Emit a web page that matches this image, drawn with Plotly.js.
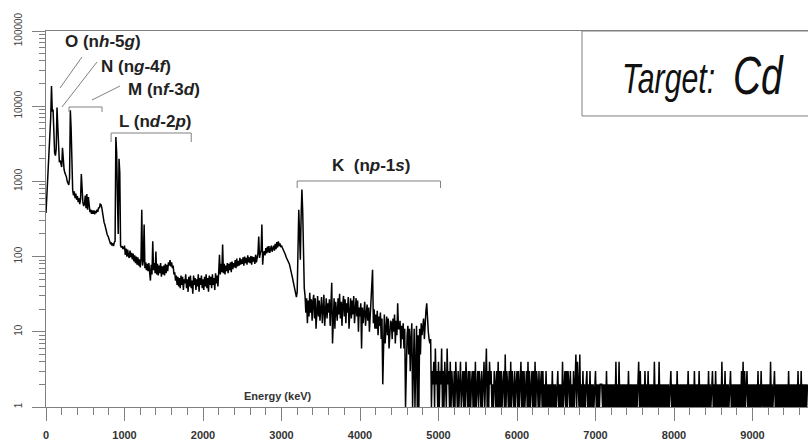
<!DOCTYPE html>
<html>
<head>
<meta charset="utf-8">
<script src="https://cdn.plot.ly/plotly-3.0.1.min.js"></script>
<style>html,body{margin:0;padding:0;background:#fff;}#chart{width:808px;height:442px;}</style>
</head>
<body>
<div id="chart"></div>
<script>
// Spectrum channels: start energy and width (keV)
const channelStart = 0;
const channelWidth = 10;

// Counts per channel, 0 - 990 keV
const countsLow = [
  380,600,950,1500,2400,3800,7000,18500,8500,9000,
  3500,2400,2200,2700,9600,4500,2100,1800,1900,1650,
  1550,2800,1500,1450,1300,1220,1150,1000,950,900,
  1100,8800,5000,850,760,650,740,600,690,570,
  640,530,600,500,570,1250,560,520,470,500,
  650,440,680,420,620,440,390,420,370,410,
  370,410,365,405,380,420,395,450,440,500,
  490,450,360,340,285,265,235,220,195,188,
  170,165,150,152,140,150,138,155,160,3900,
  2400,600,200,2000,1300,140,132,138,126,130
];
// 1000 - 1990 keV
const countsMid1 = [
  140,105,128,100,124,104,96,120,98,112,
  92,110,86,104,82,100,78,98,76,92,
  72,90,420,76,88,267,70,84,66,80,
  64,82,60,48,78,58,160,66,82,60,
  117,58,80,56,76,60,82,54,74,58,
  76,56,80,60,78,64,84,76,90,74,
  84,70,76,58,62,48,56,42,54,40,
  52,38,56,42,54,36,50,44,58,38,
  50,34,54,40,56,38,48,32,56,42,
  52,36,50,40,58,34,52,42,56,38
];
// 2000 - 2990 keV
const countsMid2 = [
  50,36,54,40,58,38,52,34,56,42,
  54,38,58,42,52,36,60,44,56,40,
  62,106,58,80,62,145,60,80,58,76,
  64,82,60,80,66,84,62,86,68,82,
  72,90,70,94,74,88,76,96,78,92,
  80,98,76,100,82,96,78,104,84,98,
  82,102,78,100,86,98,80,106,84,102,
  110,185,96,112,120,267,78,110,118,104,
  130,110,136,114,138,112,132,140,116,136,
  140,120,148,126,156,132,160,138,150,134
];
// 3000 - 3990 keV
const countsK1 = [
  140,132,126,118,112,106,98,94,88,84,
  80,72,66,58,52,46,40,36,32,29,
  34,90,420,200,91,350,780,400,60,38,
  30,18,28,13,26,16,33,18,27,14,
  25,31,15,28,11,23,30,16,26,14,
  23,29,13,25,31,12,22,28,15,24,
  18,27,12,29,45,7,16,28,11,25,
  19,14,28,17,32,15,25,12,23,30,
  16,27,13,24,18,29,11,22,28,15,
  26,17,30,13,23,28,16,26,10,21
];
// 4000 - 4990 keV
const countsK2 = [
  16,24,6,21,13,20,25,12,18,23,
  14,21,10,18,24,35,67,13,20,11,
  17,11,19,9,16,12,18,8,15,2,
  14,17,7,13,16,9,15,6,12,14,
  13,8,15,10,17,7,14,9,24,11,
  11,14,6,12,8,13,6,11,1,8,
  9,12,5,11,3,8,13,1,7,11,
  1,8,12,1,9,1,11,5,13,9,
  11,15,8,17,19,24,14,10,8,7,
  8,1,3,2,4,1,6,2,3,1
];
// 5000 - 6990 keV
const countsTail1 = [
  4,1,3,2,6,1,3,1,4,2,
  1,6,2,3,1,4,1,3,2,1,
  3,1,4,2,1,3,1,2,4,1,
  2,3,1,3,1,4,2,1,3,1,
  3,1,2,3,1,3,1,4,1,2,
  3,1,3,2,1,3,1,2,4,1,
  3,6,1,3,1,4,2,3,1,2,
  1,3,2,1,3,1,4,1,3,1,
  3,1,2,3,1,5,1,3,2,1,
  3,1,4,1,3,2,1,3,1,2,
  3,1,3,1,2,4,1,3,1,3,
  1,2,3,1,4,1,3,1,2,3,
  1,3,1,4,1,3,2,1,3,1,
  2,3,1,3,1,2,1,3,1,2,
  1,2,1,2,1,3,1,2,1,2,
  1,2,3,1,2,1,2,1,4,1,
  2,3,1,3,1,3,2,1,3,1,
  2,1,3,1,2,5,1,4,2,1,
  5,1,2,1,3,1,2,1,2,3,
  1,2,1,3,1,2,1,2,1,2
];
// 7000 - 9700 keV
const countsTail2 = [
  3,1,2,1,2,1,2,2,2,1,
  2,1,2,1,3,1,2,1,2,1,
  2,1,2,1,2,1,4,1,2,1,
  4,1,2,1,2,1,2,1,2,1,
  2,1,3,1,2,1,2,1,2,1,
  2,1,2,1,2,4,1,3,1,2,
  1,2,1,3,1,2,1,3,1,2,
  1,2,1,2,1,4,1,2,1,2,
  1,4,1,2,1,2,1,2,1,2,
  1,2,1,2,1,2,3,1,2,1,
  2,1,2,1,3,1,2,1,2,1,
  2,1,2,1,2,1,2,1,3,1,
  2,1,2,1,2,1,3,1,2,1,
  2,1,3,1,2,1,2,1,2,1,
  2,1,2,1,3,1,2,1,2,3,
  1,2,1,3,1,2,1,2,1,2,
  1,4,1,2,1,3,1,2,1,2,
  1,2,3,1,2,1,2,1,2,1,
  2,1,2,1,2,1,3,1,4,1,
  3,1,2,3,1,2,1,2,1,2,
  1,2,1,2,1,2,1,3,1,2,
  1,3,1,2,1,2,1,2,1,2,
  1,2,1,4,1,2,1,2,3,1,
  2,1,2,1,2,1,2,1,2,1,
  2,1,2,1,2,1,3,1,2,1,
  2,1,2,1,2,1,2,1,3,1,
  2,1,3,1,2,1,2,1,2,1,
  2
];

// Labels
const seriesLabels = {
  O: "<b>O (n<i>h</i>-5<i>g</i>)</b>",
  N: "<b>N (n<i>g</i>-4<i>f</i>)</b>",
  M: "<b>M (n<i>f</i>-3<i>d</i>)</b>",
  L: "<b>L (n<i>d</i>-2<i>p</i>)</b>",
  K: "<b>K\u00a0\u00a0(n<i>p</i>-1<i>s</i>)</b>"
};
const xAxisLabel = "Energy (keV)";
const targetLabel = "Target:";
const targetElement = "Cd";

// Shell bracket ranges (keV)
const bracketM = [293, 714];
const bracketL = [829, 1850];
const bracketK = [3200, 5026];

const counts = [].concat(countsLow, countsMid1, countsMid2, countsK1, countsK2, countsTail1, countsTail2);

const trace = {
  type: 'scatter',
  mode: 'lines',
  x0: channelStart,
  dx: channelWidth,
  y: counts,
  line: {color: '#000', width: 1.5},
  hoverinfo: 'skip'
};

const gray = '#808080';
const labelFont = {family: 'Liberation Sans, Arial, sans-serif', size: 17, color: '#222'};

function bracket(r, ytop, yfoot) {
  return {
    type: 'path', xref: 'x', yref: 'paper',
    path: `M ${r[0]},${yfoot} L ${r[0]},${ytop} L ${r[1]},${ytop} L ${r[1]},${yfoot}`,
    line: {color: gray, width: 1}
  };
}
function seg(x0, y0, x1, y1) {
  return {type: 'line', xref: 'paper', yref: 'paper', x0, y0, x1, y1, line: {color: gray, width: 1}};
}

const layout = {
  width: 808, height: 442,
  margin: {l: 46, r: 0, t: 31, b: 35},
  paper_bgcolor: '#fff', plot_bgcolor: '#fff',
  showlegend: false,
  xaxis: {
    range: [0, 9707],
    showline: true, linecolor: gray, linewidth: 1, mirror: true,
    ticks: 'outside', ticklen: 13, tickcolor: gray, tickwidth: 1,
    tick0: 0, dtick: 1000, tickformat: 'd',
    minor: {dtick: 200, ticks: 'outside', ticklen: 7, tickcolor: gray, tickwidth: 1, showgrid: false},
    showgrid: false, zeroline: false,
    tickfont: {family: 'Liberation Sans, Arial, sans-serif', size: 11, color: '#333', weight: 'bold'},
    ticklabelstandoff: 5
  },
  yaxis: {
    type: 'log', range: [0, 5],
    showline: true, linecolor: gray, linewidth: 1,
    ticks: 'outside', ticklen: 13, tickcolor: gray, tickwidth: 1,
    tick0: 0, dtick: 1, tickformat: 'd',
    tickangle: -90,
    minor: {dtick: 'D1', ticks: 'outside', ticklen: 6, tickcolor: gray, tickwidth: 1, showgrid: false},
    showgrid: false, zeroline: false,
    tickfont: {family: 'Liberation Sans, Arial, sans-serif', size: 10, color: '#444'},
    ticklabelstandoff: 6
  },
  annotations: [
    {text: seriesLabels.O, xref: 'paper', yref: 'paper', x: 0.0748, y: 0.9734, showarrow: false, font: labelFont, xanchor: 'center', yanchor: 'middle'},
    {text: seriesLabels.N, xref: 'paper', yref: 'paper', x: 0.1175, y: 0.9069, showarrow: false, font: labelFont, xanchor: 'center', yanchor: 'middle'},
    {text: seriesLabels.M, xref: 'paper', yref: 'paper', x: 0.1542, y: 0.8457, showarrow: false, font: labelFont, xanchor: 'center', yanchor: 'middle'},
    {text: seriesLabels.L, xref: 'paper', yref: 'paper', x: 0.1437, y: 0.7580, showarrow: false, font: labelFont, xanchor: 'center', yanchor: 'middle'},
    {text: seriesLabels.K, xref: 'paper', yref: 'paper', x: 0.4259, y: 0.6410, showarrow: false, font: labelFont, xanchor: 'center', yanchor: 'middle'},
    {text: xAxisLabel, xref: 'paper', yref: 'paper', x: 0.3045, y: 0.0293, showarrow: false,
     font: {family: 'Liberation Sans, Arial, sans-serif', size: 11, color: '#333', weight: 'bold'}, xanchor: 'center', yanchor: 'middle'},
    {text: '<i>' + targetLabel + '</i>', xref: 'paper', yref: 'paper', x: 0.8163, y: 0.8731, showarrow: false,
     font: {family: 'Liberation Sans, Arial, sans-serif', size: 42, color: '#111'}, xanchor: 'center', yanchor: 'middle'},
    {text: '<i>' + targetElement + '</i>', xref: 'paper', yref: 'paper', x: 0.9344, y: 0.8821, showarrow: false,
     font: {family: 'Liberation Sans, Arial, sans-serif', size: 54, color: '#111'}, xanchor: 'center', yanchor: 'middle'}
  ],
  shapes: [
    seg(0.04724, 0.9309, 0.01837, 0.8484),
    seg(0.06693, 0.9176, 0.02100, 0.7979),
    seg(0.09711, 0.8537, 0.06037, 0.8165),
    bracket(bracketM, 0.7979, 0.7846),
    bracket(bracketL, 0.7287, 0.7048),
    bracket(bracketK, 0.6011, 0.5824),
    {type: 'rect', xref: 'paper', yref: 'paper', x0: 0.7034, x1: 1.02, y0: 0.774, y1: 1.0, line: {color: gray, width: 1}}
  ]
};

Plotly.newPlot('chart', [trace], layout, {displayModeBar: false, staticPlot: true}).then(function (gd) {
  // Narrow (condensed) rendering of the "Target: Cd" label, as in the reference
  const notes = gd.querySelectorAll('.annotation');
  [6, 7].forEach(function (i) {
    const t = notes[i] && notes[i].querySelector('text.annotation-text');
    if (t) {
      t.style.transformBox = 'fill-box';
      t.style.transformOrigin = 'center';
      t.style.transform = 'scaleX(0.72)';
    }
  });
});
</script>
</body>
</html>
